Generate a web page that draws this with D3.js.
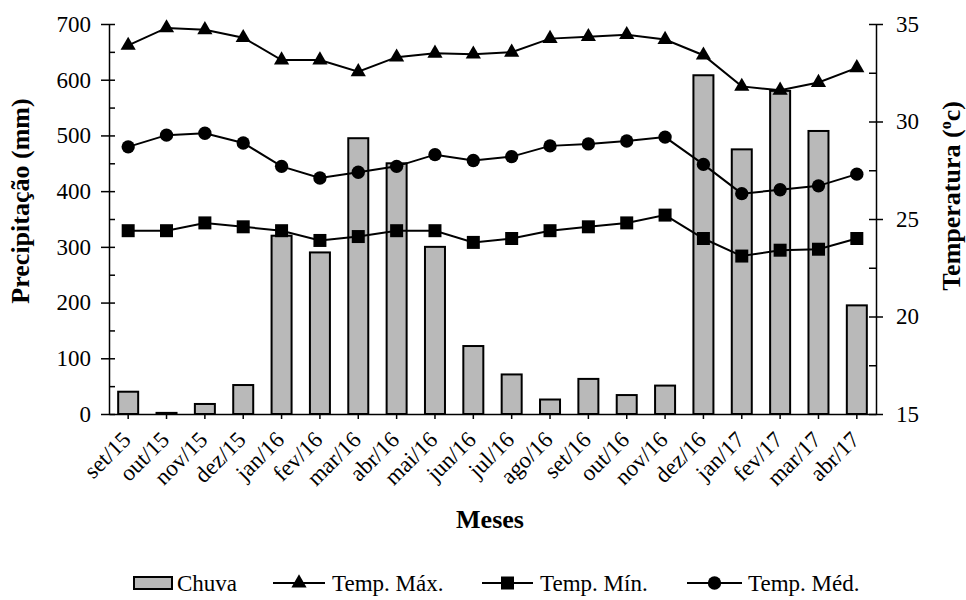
<!DOCTYPE html>
<html>
<head>
<meta charset="utf-8">
<script src="https://cdn.jsdelivr.net/npm/d3@7"></script>
<style>
  body { margin: 0; background: #fff; }
  svg, svg text { font-family: "Liberation Serif", "Times New Roman", Tinos, "DejaVu Serif", serif !important; }
  .axis path, .axis line { stroke: #000; stroke-width: 1.5px; }
</style>
</head>
<body>
<svg id="chart" width="966" height="600"></svg>
<script>
// months on the x axis
const months = ['set/15', 'out/15', 'nov/15', 'dez/15', 'jan/16', 'fev/16', 'mar/16', 'abr/16',
  'mai/16', 'jun/16', 'jul/16', 'ago/16', 'set/16', 'out/16', 'nov/16', 'dez/16',
  'jan/17', 'fev/17', 'mar/17', 'abr/17'];

// precipitation (mm)
const chuva = [40, 2, 18, 52, 320, 290, 495, 450, 300, 122, 71, 26, 63, 34, 51, 608, 475, 580, 508, 195];

// temperatures (ºC)
const tempMax = [33.9, 34.8, 34.7, 34.3, 33.15, 33.15, 32.55, 33.3, 33.5, 33.45, 33.55, 34.25, 34.35, 34.45, 34.2, 33.4, 31.8, 31.6, 32.0, 32.75];
const tempMin = [24.4, 24.4, 24.8, 24.6, 24.4, 23.9, 24.1, 24.4, 24.4, 23.8, 24.0, 24.4, 24.6, 24.8, 25.2, 24.0, 23.1, 23.4, 23.45, 24.0];
const tempMed = [28.7, 29.3, 29.4, 28.9, 27.7, 27.1, 27.4, 27.7, 28.3, 28.0, 28.2, 28.75, 28.85, 29.0, 29.2, 27.8, 26.3, 26.5, 26.7, 27.3];

// axis ticks
const leftTicks = [0, 100, 200, 300, 400, 500, 600, 700];
const leftMinor = [50, 150, 250, 350, 450, 550, 650];
const rightTicks = [15, 20, 25, 30, 35];
const rightMinor = [17.5, 22.5, 27.5, 32.5];

const legendLabels = ['Chuva', 'Temp. Máx.', 'Temp. Mín.', 'Temp. Méd.'];

const svg = d3.select('#chart');

const plotLeft = 109, plotRight = 876, plotTop = 24, plotBottom = 414;

const x = d3.scaleBand().domain(months).range([plotLeft, plotRight]);
const cx = m => x(m) + x.bandwidth() / 2;
const yLeft = d3.scaleLinear().domain([0, 700]).range([plotBottom, plotTop]);
const yRight = d3.scaleLinear().domain([15, 35]).range([plotBottom, plotTop]);

const barWidth = 20;

// bars
svg.append('g').selectAll('rect.bar')
  .data(chuva)
  .enter().append('rect')
  .attr('class', 'bar')
  .attr('x', (d, i) => cx(months[i]) - barWidth / 2)
  .attr('y', d => yLeft(d))
  .attr('width', barWidth)
  .attr('height', d => yLeft(0) - yLeft(d))
  .attr('fill', '#b9b9b9')
  .attr('stroke', '#000')
  .attr('stroke-width', 2);

// left axis
const gLeft = svg.append('g').attr('class', 'axis').attr('transform', `translate(${plotLeft},0)`)
  .call(d3.axisLeft(yLeft).tickValues(leftTicks).tickSize(8).tickSizeOuter(0));
gLeft.attr('font-family', null).attr('font-size', 23);
gLeft.selectAll('.tick line').attr('x1', 6);
gLeft.selectAll('.tick text').attr('x', -18).attr('fill', '#000');
svg.append('g').attr('class', 'axis').attr('transform', `translate(${plotLeft},0)`)
  .call(d3.axisRight(yLeft).tickValues(leftMinor).tickSize(6).tickFormat(''))
  .select('.domain').remove();

// right axis
const gRight = svg.append('g').attr('class', 'axis').attr('transform', `translate(${plotRight},0)`)
  .call(d3.axisRight(yRight).tickValues(rightTicks).tickSize(7).tickSizeOuter(0));
gRight.attr('font-family', null).attr('font-size', 23);
gRight.selectAll('.tick line').attr('x1', -7);
gRight.selectAll('.tick text').attr('x', 20).attr('fill', '#000');
svg.append('g').attr('class', 'axis').attr('transform', `translate(${plotRight},0)`)
  .call(d3.axisLeft(yRight).tickValues(rightMinor).tickSize(7).tickFormat(''))
  .select('.domain').remove();

// x axis
const gX = svg.append('g').attr('class', 'axis').attr('transform', `translate(0,${plotBottom})`)
  .call(d3.axisBottom(x).tickSize(5).tickSizeOuter(0));
gX.attr('font-family', null).attr('font-size', 23);
gX.selectAll('.tick text')
  .attr('x', 0).attr('y', 0).attr('dy', 0)
  .attr('text-anchor', 'end')
  .attr('fill', '#000')
  .attr('transform', 'translate(4,27) rotate(-45)');

// temperature lines
const line = d3.line().x((d, i) => cx(months[i])).y(d => yRight(d));
const series = [
  { values: tempMax, symbol: d3.symbolTriangle, size: 100 },
  { values: tempMin, symbol: d3.symbolSquare, size: 169 },
  { values: tempMed, symbol: d3.symbolCircle, size: 140 }
];

series.forEach(s => {
  svg.append('path')
    .datum(s.values)
    .attr('d', line)
    .attr('fill', 'none')
    .attr('stroke', '#000')
    .attr('stroke-width', 2);
  svg.append('g').selectAll('path.marker')
    .data(s.values)
    .enter().append('path')
    .attr('class', 'marker')
    .attr('d', d3.symbol().type(s.symbol).size(s.size))
    .attr('transform', (d, i) => `translate(${cx(months[i])},${yRight(d)})`)
    .attr('fill', '#000');
});

// axis titles
svg.append('text')
  .attr('transform', 'translate(29,201) rotate(-90)')
  .attr('text-anchor', 'middle')
  .attr('font-size', 26).attr('font-weight', 'bold')
  .text('Precipitação (mm)');

const tRight = svg.append('text')
  .attr('transform', 'translate(960,196) rotate(-90)')
  .attr('text-anchor', 'middle')
  .attr('font-size', 26).attr('font-weight', 'bold');
tRight.append('tspan').text('Temperatura (');
tRight.append('tspan').attr('font-size', 16).attr('dy', -9).text('o');
tRight.append('tspan').attr('dy', 9).text('c)');

svg.append('text')
  .attr('x', 490).attr('y', 528)
  .attr('text-anchor', 'middle')
  .attr('font-size', 26).attr('font-weight', 'bold')
  .text('Meses');

// legend
const ly = 583;
const legend = svg.append('g').attr('font-size', 23);

legend.append('rect')
  .attr('x', 134).attr('y', ly - 6).attr('width', 38).attr('height', 12)
  .attr('fill', '#b9b9b9').attr('stroke', '#000').attr('stroke-width', 2);
legend.append('text').attr('x', 177).attr('y', ly + 8).text(legendLabels[0]);

const legendLines = [
  { x0: 273, x1: 325, text: 332, symbol: d3.symbolTriangle, size: 100 },
  { x0: 482, x1: 533, text: 540, symbol: d3.symbolSquare, size: 169 },
  { x0: 687, x1: 742, text: 748, symbol: d3.symbolCircle, size: 140 }
];
legendLines.forEach((l, i) => {
  legend.append('line')
    .attr('x1', l.x0).attr('x2', l.x1).attr('y1', ly).attr('y2', ly)
    .attr('stroke', '#000').attr('stroke-width', 2);
  legend.append('path')
    .attr('d', d3.symbol().type(l.symbol).size(l.size))
    .attr('transform', `translate(${(l.x0 + l.x1) / 2},${ly})`);
  legend.append('text').attr('x', l.text).attr('y', ly + 8).text(legendLabels[i + 1]);
});
</script>
</body>
</html>
